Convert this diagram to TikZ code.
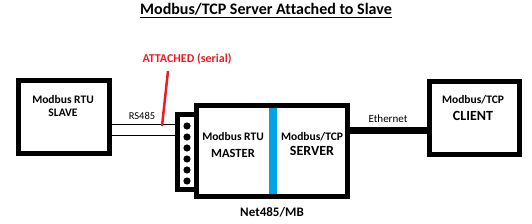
\documentclass[tikz,border=0pt]{standalone}
\usepackage{fontspec}
\setmainfont{Carlito}[Ligatures=NoCommon]
\usetikzlibrary{calc}
\definecolor{paintblue}{RGB}{0,162,232}
\definecolor{paintred}{RGB}{237,28,36}
\begin{document}
\begin{tikzpicture}[x=1pt,y=-1pt,
  box/.style={draw,line width=5pt,rectangle,inner sep=0pt,fill=white},
  lbl/.style={inner sep=0pt,font=\bfseries\fontsize{11.5}{13}\selectfont,align=center},
  big/.style={inner sep=0pt,font=\bfseries\fontsize{14}{14}\selectfont},
  small/.style={inner sep=0pt,font=\fontsize{10.5}{11}\selectfont}]
\useasboundingbox (0,0) rectangle (532,224);
% title
\node[inner sep=0pt,font=\bfseries\fontsize{16}{16}\selectfont,anchor=base] (title) at (266,15) {Modbus/TCP Server Attached to Slave};
\draw[line width=1pt] ($(title.base west)+(0,2.5)$) -- ($(title.base east)+(0,2.5)$);
% boxes
\node[box,minimum width=91pt,minimum height=73pt] (slave) at (64,117) {};
\node[box,minimum width=19pt,minimum height=75pt] (conn) at (187,152) {};
\node[box,minimum width=151pt,minimum height=91pt] (main) at (272,151) {};
\node[box,minimum width=90pt,minimum height=73pt] (client) at (474.5,118) {};
% blue divider
\fill[paintblue] (269,108) rectangle (277,194);
% connector pins
\foreach \i in {0,...,5}{\fill (187,126+11*\i) circle (3.6);}
% texts
\node[lbl] (slavet) at (63,106.5) {Modbus RTU\\SLAVE};
\node[lbl] (mastert1) at (233,137) {Modbus RTU};
\node[lbl,font=\bfseries\fontsize{12.5}{13}\selectfont] (mastert2) at (233,153) {MASTER};
\node[lbl] (servert1) at (312,137) {Modbus/TCP};
\node[big] (servert2) at (312,151) {SERVER};
\node[lbl] (clientt1) at (473,100) {Modbus/TCP};
\node[big] (clientt2) at (473,115.5) {CLIENT};
\node[inner sep=0pt,font=\bfseries\fontsize{13}{13}\selectfont] (net) at (272,212) {Net485/MB};
% RS485 wires
\draw[line width=1pt] (slave.east |- 0,124.5) -- (conn.west |- 0,124.5);
\draw[line width=1pt] (slave.east |- 0,135.5) -- (conn.west |- 0,135.5);
\node[small] (rs) at (142,116) {RS485};
% Ethernet
\draw[line width=7pt] (main.east |- 0,130.5) -- (client.west |- 0,130.5);
\node[small,font=\fontsize{11}{11}\selectfont] (eth) at (388,119) {Ethernet};
% attached label
\node[inner sep=0pt,text=paintred,font=\bfseries\fontsize{12}{12}\selectfont] (att) at (187,59) {ATTACHED (serial)};
\coordinate (atttop) at (168,71);
\coordinate (atttip) at (162,126);
\draw[paintred,line width=2.5pt] (atttop) -- (atttip);
\end{tikzpicture}
\end{document}
